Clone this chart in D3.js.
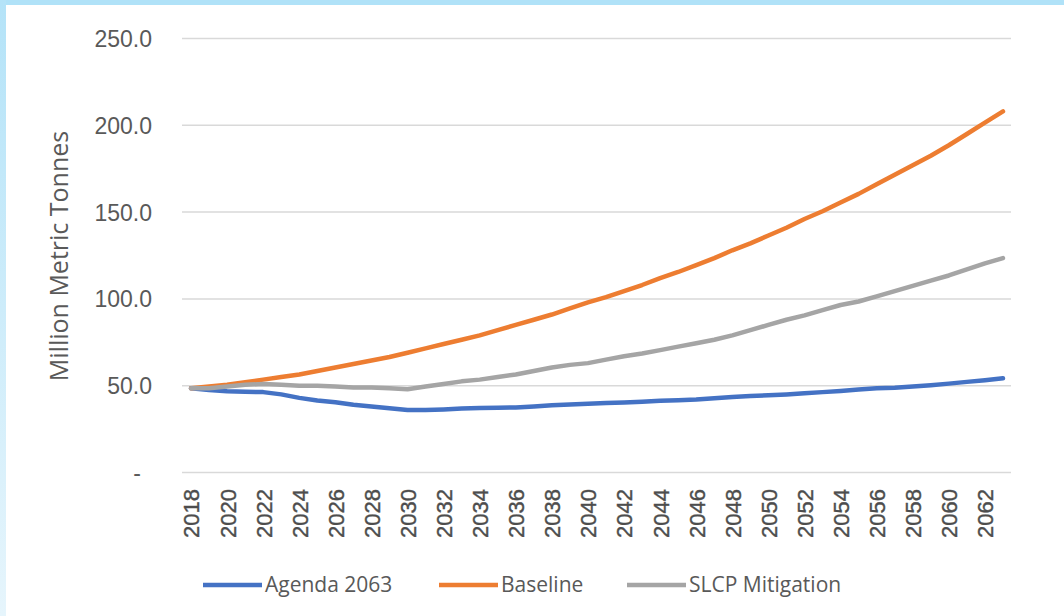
<!DOCTYPE html>
<html>
<head>
<meta charset="utf-8">
<script src="https://cdn.jsdelivr.net/npm/d3@7"></script>
<style>
  html, body { margin: 0; padding: 0; background: #ffffff; }
  svg { display: block; font-family: "Open Sans", "Liberation Sans", sans-serif; }
</style>
</head>
<body>
<svg id="chart" width="1064" height="616"></svg>
<script>
// years on the category axis
var years = d3.range(2018, 2064);

// Million metric tonnes
var agenda_2063 = [48.5, 47.5, 46.8, 46.5, 46.3, 45.0, 43.0, 41.5, 40.5, 39.0,
  38.0, 37.0, 36.0, 36.0, 36.3, 36.8, 37.2, 37.3, 37.5, 38.0,
  38.7, 39.2, 39.6, 40.0, 40.3, 40.8, 41.3, 41.6, 42.0, 42.8,
  43.5, 44.0, 44.5, 45.0, 45.6, 46.3, 47.0, 47.8, 48.5, 48.8,
  49.5, 50.3, 51.2, 52.2, 53.2, 54.3];

var baseline = [48.5, 49.5, 50.5, 52.0, 53.5, 55.0, 56.5, 58.5, 60.5, 62.5,
  64.5, 66.5, 69.0, 71.5, 74.0, 76.5, 79.0, 82.0, 85.0, 88.0,
  91.0, 94.5, 98.0, 101.0, 104.5, 108.0, 112.0, 115.5, 119.5, 123.5,
  128.0, 132.0, 136.5, 141.0, 146.0, 150.5, 155.5, 160.5, 166.0, 171.5,
  177.0, 182.5, 188.5, 195.0, 201.5, 208.0];

var slcp_mitigation = [48.5, 48.5, 49.5, 50.5, 51.0, 50.5, 50.0, 50.0, 49.5, 49.0,
  49.0, 48.5, 48.0, 49.5, 51.0, 52.5, 53.5, 55.0, 56.5, 58.5,
  60.5, 62.0, 63.0, 65.0, 67.0, 68.5, 70.5, 72.5, 74.5, 76.5,
  79.0, 82.0, 85.0, 88.0, 90.5, 93.5, 96.5, 98.5, 101.5, 104.5,
  107.5, 110.5, 113.5, 117.0, 120.5, 123.5];

var series_names = ["Agenda 2063", "Baseline", "SLCP Mitigation"];
var series_colors = ["#4472c4", "#ed7d31", "#a5a5a5"];
var y_ticks = [0, 50, 100, 150, 200, 250];

var svg = d3.select("#chart");
var width = 1064, height = 616;

// light blue frame round the slide
var defs = svg.append("defs");
var grad = defs.append("linearGradient").attr("id", "side-fade")
  .attr("x1", 0).attr("y1", 0).attr("x2", 0).attr("y2", 1);
grad.append("stop").attr("offset", "0%").attr("stop-color", "#b4e3f8");
grad.append("stop").attr("offset", "100%").attr("stop-color", "#e6f5fc");

svg.append("rect").attr("width", width).attr("height", height).style("fill", "#ffffff");
svg.append("rect").attr("x", 0).attr("y", 0).attr("width", width).attr("height", 5)
  .style("fill", "#b0e2f8");
svg.append("rect").attr("x", 0).attr("y", 0).attr("width", 6).attr("height", height)
  .style("fill", "url(#side-fade)");

// scales
var x = d3.scalePoint()
  .domain(years)
  .range([182, 1012])
  .padding(0.5);

var y = d3.scaleLinear()
  .domain([0, 250])
  .range([472.5, 38.5]);

// gridlines
var grid = svg.append("g").attr("class", "grid");
grid.selectAll("line")
  .data(y_ticks)
  .enter()
  .append("line")
    .attr("x1", 182)
    .attr("x2", 1011)
    .attr("y1", function(d) {return y(d);})
    .attr("y2", function(d) {return y(d);})
    .style("stroke", "#d9d9d9")
    .style("stroke-width", 1.5);

// y axis labels
var y_axis = svg.append("g")
  .attr("transform", "translate(152,0)")
  .call(d3.axisLeft(y).tickValues(y_ticks).tickSize(0).tickPadding(0)
    .tickFormat(function(d) {return d == 0 ? "-" : d3.format(".1f")(d);}));
y_axis.select(".domain").remove();
y_axis.selectAll("text")
  .style("font-size", "23px")
  .style("fill", "#595959")
  .attr("dy", "0.35em")
  .attr("x", function(d) {return d == 0 ? -11 : 0;});

// y axis title
svg.append("text")
  .attr("transform", "translate(68,256) rotate(-90)")
  .attr("text-anchor", "middle")
  .style("font-size", "25px")
  .style("fill", "#595959")
  .text("Million Metric Tonnes");

// x axis labels, every second year
var x_axis = svg.append("g")
  .attr("transform", "translate(0,489)")
  .call(d3.axisBottom(x)
    .tickValues(years.filter(function(d) {return (d - 2018) % 2 == 0;}))
    .tickSize(0).tickPadding(0));
x_axis.select(".domain").remove();
x_axis.selectAll("text")
  .attr("transform", "rotate(-90)")
  .attr("text-anchor", "end")
  .attr("x", 0)
  .attr("y", 0)
  .attr("dy", "0.36em")
  .style("font-size", "22px")
  .style("fill", "#4d4d4d")
  .style("stroke", "#4d4d4d")
  .style("stroke-width", 0.4);

// lines
var all_series = [agenda_2063, baseline, slcp_mitigation];
var line = d3.line()
  .x(function(d, i) {return x(years[i]);})
  .y(function(d) {return y(d);});

svg.append("g").selectAll("path")
  .data(all_series)
  .enter()
  .append("path")
    .attr("d", line)
    .style("fill", "none")
    .style("stroke", function(d, i) {return series_colors[i];})
    .style("stroke-width", 4.5)
    .style("stroke-linejoin", "round")
    .style("stroke-linecap", "round");

// legend
var legend_x = [203, 439, 627];
var legend = svg.append("g").selectAll("g")
  .data(series_names)
  .enter()
  .append("g")
    .attr("transform", function(d, i) {return "translate(" + legend_x[i] + ",585)";});
legend.append("line")
  .attr("x1", 0).attr("x2", 59)
  .attr("y1", 0).attr("y2", 0)
  .style("stroke", function(d, i) {return series_colors[i];})
  .style("stroke-width", 4.5);
legend.append("text")
  .attr("x", 62)
  .attr("dy", "0.35em")
  .style("font-size", "21px")
  .style("fill", "#595959")
  .text(function(d) {return d;});
</script>
</body>
</html>
